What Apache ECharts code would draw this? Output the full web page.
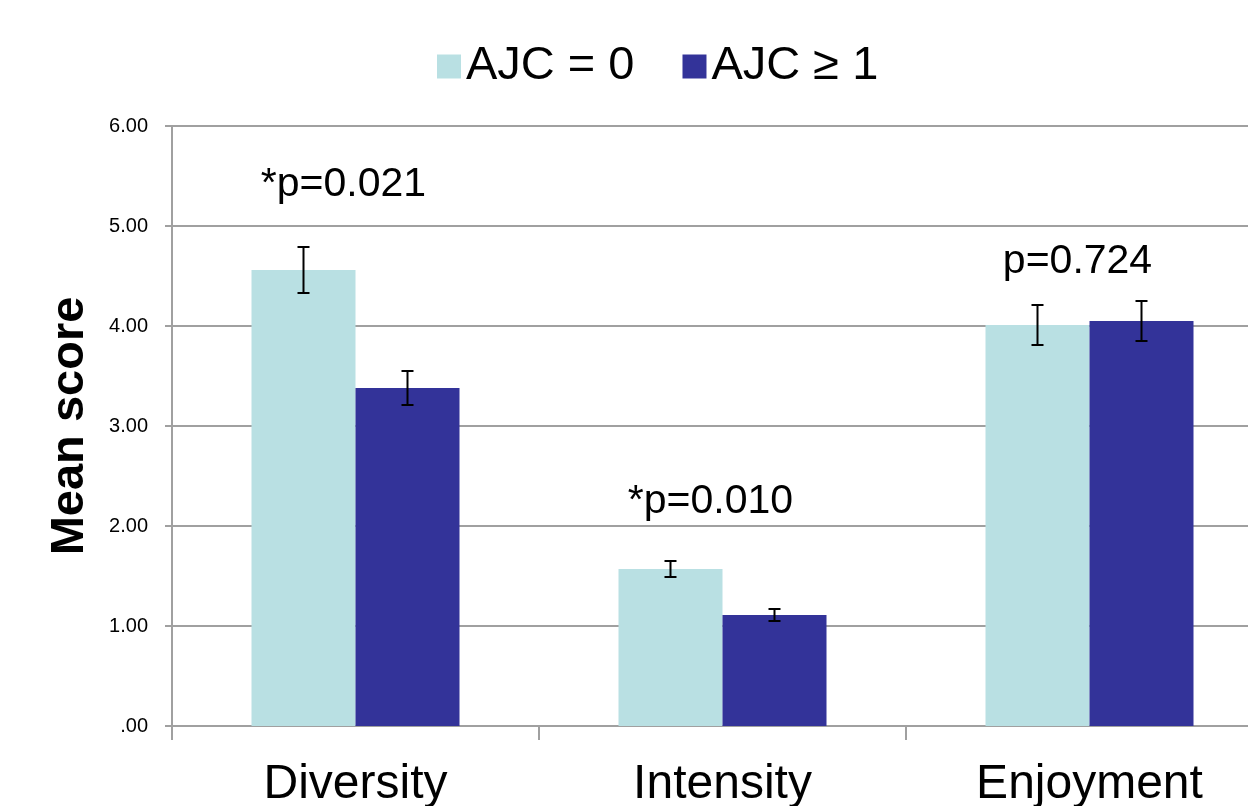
<!DOCTYPE html>
<html>
<head>
<meta charset="utf-8">
<script src="https://cdn.jsdelivr.net/npm/echarts@6/dist/echarts.min.js"></script>
<style>
  html, body { margin: 0; padding: 0; background: #fff; }
  #chart { width: 1248px; height: 806px; }
</style>
</head>
<body>
<div id="chart"></div>
<script>
// data
const categories = ['Diversity', 'Intensity', 'Enjoyment']
const seriesNames = ['AJC = 0', 'AJC \u2265 1']
const meanAjc0 = [4.56, 1.57, 4.01]
const errAjc0 = [0.23, 0.08, 0.20]
const meanAjc1 = [3.38, 1.11, 4.05]
const errAjc1 = [0.17, 0.06, 0.20]
const pLabels = ['*p=0.021', '*p=0.010', 'p=0.724']
const pLabelY = [5.41, 2.24, 4.64]
const yTicks = [0, 1, 2, 3, 4, 5, 6]

const colors = ['#b9e0e3', '#333399']
const BAR_W = 104

const chart = echarts.init(document.getElementById('chart'))

// error bar drawn around each bar, shifted by half a bar width
function errorBar(offset) {
  return function(params, api) {
    const x = api.value(0)
    const hi = api.coord([x, api.value(1) + api.value(2)])
    const lo = api.coord([x, api.value(1) - api.value(2)])
    const cx = hi[0] + offset
    const hw = 6
    const style = { stroke: '#000', lineWidth: 2 }
    return {
      type: 'group',
      children: [
        { type: 'line', shape: { x1: cx, y1: hi[1], x2: cx, y2: lo[1] }, style },
        { type: 'line', shape: { x1: cx - hw, y1: hi[1], x2: cx + hw, y2: hi[1] }, style },
        { type: 'line', shape: { x1: cx - hw, y1: lo[1], x2: cx + hw, y2: lo[1] }, style }
      ]
    }
  }
}

chart.setOption({
  animation: false,
  textStyle: { fontFamily: 'Liberation Sans, Arial, sans-serif' },
  legend: {
    top: 38,
    left: 432,
    icon: 'rect',
    itemWidth: 24,
    itemHeight: 24,
    itemGap: 48,
    data: seriesNames,
    textStyle: { fontSize: 47, color: '#000', padding: [0, 0, 0, 0] }
  },
  // the last category runs past the right edge of the picture
  grid: {
    left: 172, top: 126, width: 1101, height: 600,
    containLabel: false, outerBoundsMode: 'none'
  },
  xAxis: {
    type: 'category',
    data: categories,
    axisLine: { show: false },
    axisTick: { show: true, length: 14, lineStyle: { color: '#a0a0a0', width: 2 } },
    axisLabel: { fontSize: 48, color: '#000', margin: 35 }
  },
  yAxis: {
    type: 'value',
    min: yTicks[0],
    max: yTicks[yTicks.length - 1],
    interval: 1,
    name: 'Mean score',
    nameLocation: 'middle',
    nameRotate: 90,
    nameGap: 78,
    nameTextStyle: { fontSize: 47, fontWeight: 'bold', color: '#000' },
    axisLine: { show: true, lineStyle: { color: '#a0a0a0', width: 2 } },
    axisTick: { show: true, length: 7, lineStyle: { color: '#a0a0a0', width: 2 } },
    axisLabel: {
      fontSize: 20,
      color: '#000',
      margin: 24,
      formatter: v => v === 0 ? '.00' : v.toFixed(2)
    },
    splitLine: { show: true, lineStyle: { color: '#a0a0a0', width: 2 } }
  },
  series: [
    {
      name: seriesNames[0],
      type: 'bar',
      data: meanAjc0,
      barWidth: BAR_W,
      barGap: '0%',
      itemStyle: { color: colors[0] }
    },
    {
      name: seriesNames[1],
      type: 'bar',
      data: meanAjc1,
      barWidth: BAR_W,
      barGap: '0%',
      itemStyle: { color: colors[1] }
    },
    {
      type: 'custom',
      renderItem: errorBar(-BAR_W / 2),
      data: categories.map((c, i) => [i, meanAjc0[i], errAjc0[i]]),
      z: 10
    },
    {
      type: 'custom',
      renderItem: errorBar(BAR_W / 2),
      data: categories.map((c, i) => [i, meanAjc1[i], errAjc1[i]]),
      z: 10
    },
    {
      type: 'custom',
      renderItem: function(params, api) {
        const p = api.coord([api.value(0), api.value(1)])
        return {
          type: 'text',
          x: p[0] - 12,
          y: p[1],
          style: {
            text: pLabels[params.dataIndex],
            fontSize: 41,
            fill: '#000',
            align: 'center',
            verticalAlign: 'middle',
            fontFamily: 'Liberation Sans, Arial, sans-serif'
          }
        }
      },
      data: categories.map((c, i) => [i, pLabelY[i]]),
      z: 10
    }
  ]
})
</script>
</body>
</html>
